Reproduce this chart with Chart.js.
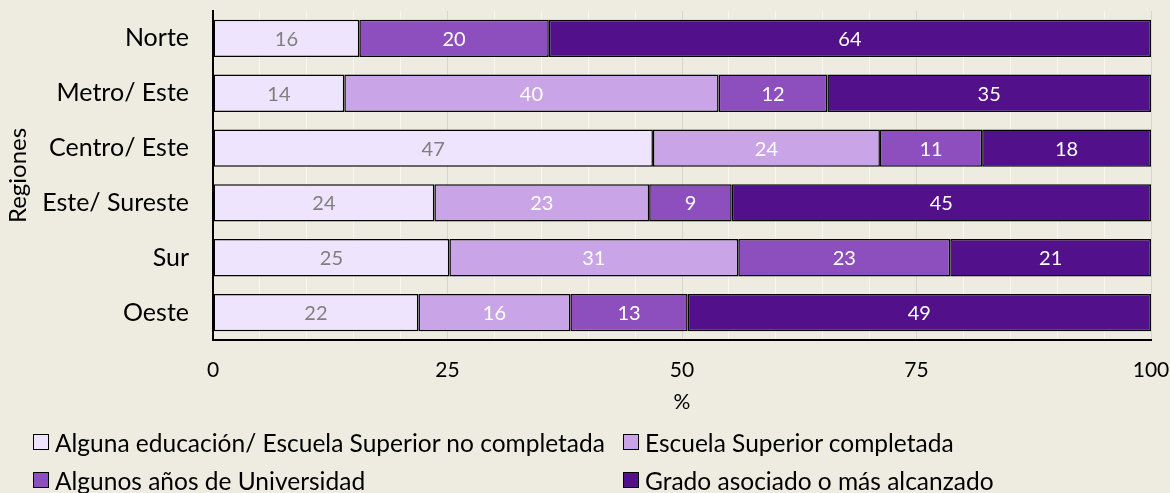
<!DOCTYPE html>
<html>
<head>
<meta charset="utf-8">
<script src="https://cdn.jsdelivr.net/npm/chart.js@4.4.0/dist/chart.umd.min.js"></script>
<style>
  body { margin: 0; background: #EEECE1; }
  #wrap { position: relative; width: 1170px; height: 493px; }
  #legend {
    position: absolute; left: 33px; top: 428px;
    display: grid; grid-template-columns: 590px 540px; row-gap: 10px;
    font-family: Lato, sans-serif; font-size: 24.5px; color: #000;
  }
  .item { display: flex; align-items: center; white-space: nowrap; height: 28px; }
  .box { width: 14px; height: 14px; border: 1px solid #000; margin-right: 6px; }
</style>
</head>
<body>
<div id="wrap">
  <canvas id="regiones" width="1170" height="493"></canvas>
  <div id="legend"></div>
</div>
<script>
const regiones = ["Norte", "Metro/ Este", "Centro/ Este", "Este/ Sureste", "Sur", "Oeste"]
const series = [
  "Alguna educación/ Escuela Superior no completada",
  "Escuela Superior completada",
  "Algunos años de Universidad",
  "Grado asociado o más alcanzado"
]
// porcentajes
const algunaEducacion = [15.6, 14.0, 46.9, 23.6, 25.2, 21.9]
const escuelaSuperior = [null, 39.9, 24.2, 22.9, 30.8, 16.2]
const algunosAnios = [20.2, 11.6, 10.9, 8.8, 22.6, 12.5]
const gradoAsociado = [64.2, 34.5, 18.0, 44.7, 21.4, 49.4]
const xTicks = [0, 25, 50, 75, 100]

const colores = ["#EEE4FD", "#C9A5E7", "#8E4FBE", "#52108A"]
const coloresTexto = ["#7F7F7F", "#FFFFFF", "#FFFFFF", "#FFFFFF"]

// etiquetas dentro de cada segmento
const etiquetas = {
  id: "etiquetas",
  afterDatasetsDraw(chart) {
    const ctx = chart.ctx
    ctx.save()
    ctx.font = "20px Lato, sans-serif"
    ctx.textAlign = "center"
    ctx.textBaseline = "middle"
    chart.data.datasets.forEach((ds, i) => {
      chart.getDatasetMeta(i).data.forEach((bar, j) => {
        const v = ds.data[j]
        if (v == null) return
        const p = bar.getCenterPoint()
        ctx.fillStyle = coloresTexto[i]
        ctx.fillText(Math.round(v), p.x, p.y + 1)
      })
    })
    ctx.restore()
  }
}

const datos = [algunaEducacion, escuelaSuperior, algunosAnios, gradoAsociado]

const chart = new Chart(document.getElementById("regiones"), {
  type: "bar",
  data: {
    labels: regiones,
    datasets: datos.map((d, i) => ({
      label: series[i],
      data: d,
      backgroundColor: colores[i],
      borderColor: "#000",
      borderWidth: 1.5,
      borderSkipped: false,
      barPercentage: 0.68,
      categoryPercentage: 1
    }))
  },
  options: {
    indexAxis: "y",
    responsive: false,
    animation: false,
    layout: { padding: { top: 11, right: 19, bottom: 78, left: 0 } },
    scales: {
      x: {
        stacked: true,
        min: 0,
        max: 100,
        ticks: {
          stepSize: 5,
          autoSkip: false,
          maxRotation: 0,
          padding: 18,
          color: "#000",
          font: { family: "Lato", size: 21 },
          callback: v => xTicks.includes(v) ? v : ""
        },
        grid: {
          drawTicks: false,
          color: c => (c.tick && c.tick.value % 25 === 0) ? "#D6D5CE" : "#F7F6F0"
        },
        border: { color: "#000", width: 2 },
        title: { display: true, text: "%", color: "#000", font: { family: "Lato", size: 21 }, padding: 0 },
        afterFit: s => {
          s.height = 75
          s.paddingLeft = 0
          s.paddingRight = 0
        }
      },
      y: {
        stacked: true,
        ticks: { padding: 24, color: "#000", font: { family: "Lato", size: 25 } },
        grid: { display: false, drawTicks: false },
        border: { color: "#000", width: 2 },
        title: { display: true, text: "Regiones", color: "#000", font: { family: "Lato", size: 24 }, padding: { top: 4, bottom: 0 } },
        afterFit: s => {
          s.width = 213
          s.paddingTop = 0
          s.paddingBottom = 0
        }
      }
    },
    plugins: {
      legend: { display: false },
      tooltip: { enabled: false }
    }
  },
  plugins: [etiquetas]
})

// leyenda en html para alinear las columnas
const leyenda = document.getElementById("legend")
chart.data.datasets.forEach(ds => {
  const item = document.createElement("div")
  item.className = "item"
  const box = document.createElement("span")
  box.className = "box"
  box.style.background = ds.backgroundColor
  item.appendChild(box)
  item.appendChild(document.createTextNode(ds.label))
  leyenda.appendChild(item)
})
</script>
</body>
</html>
